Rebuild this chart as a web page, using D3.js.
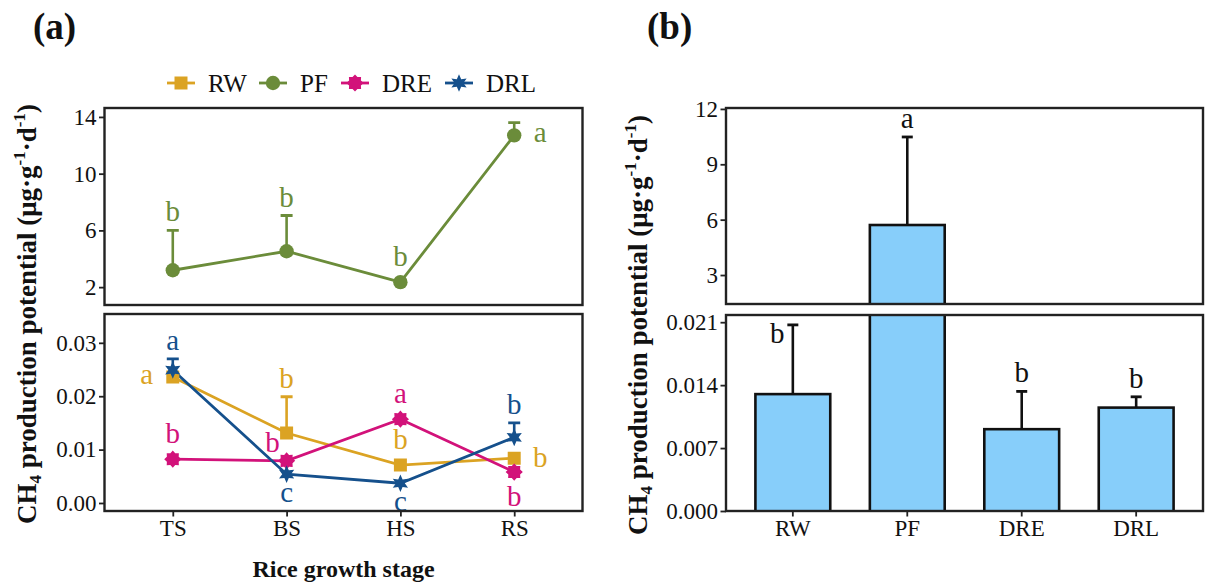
<!DOCTYPE html>
<html><head><meta charset="utf-8">
<script src="https://cdn.jsdelivr.net/npm/d3@7"></script>
<style>
html,body{margin:0;padding:0;background:#fff;}
text{font-family:"Liberation Serif","Times New Roman",serif;}
</style></head>
<body>
<svg id="chart" width="1205" height="584"></svg>
<script>
// ---------------- DATA ----------------
const stages = ["TS","BS","HS","RS"];
const seriesNames = ["RW","PF","DRE","DRL"];
const RW_mean  = [0.0236, 0.0131, 0.0071, 0.0084];
const RW_se    = [0, 0.0068, 0, 0];
const RW_let   = ["a","b","b","b"];
const RW_pos   = ["left","above","above","right"];
const PF_mean  = [3.19, 4.53, 2.35, 12.7];
const PF_se    = [2.81, 2.52, 0, 0.9];
const PF_let   = ["b","b","b","a"];
const PF_pos   = ["above","above","above","right"];
const DRE_mean = [0.0082, 0.0079, 0.0157, 0.0058];
const DRE_se   = [0, 0, 0, 0];
const DRE_let  = ["b","b","a","b"];
const DRE_pos  = ["above","upleft","above","below"];
const DRL_mean = [0.0249, 0.0054, 0.0037, 0.0123];
const DRL_se   = [0.0021, 0, 0, 0.0027];
const DRL_let  = ["a","c","c","b"];
const DRL_pos  = ["above","below","below","above"];

const treatments = ["RW","PF","DRE","DRL"];
const bar_mean = [0.0130, 5.71, 0.0091, 0.0115];
const bar_se   = [0.0077, 4.77, 0.0042, 0.0012];
const bar_let  = ["b","a","b","b"];
const bar_pos  = ["beside","above","above","above"];

const ticksA_top = [2,6,10,14];
const ticksA_bot = [0,0.01,0.02,0.03];
const ticksB_top = [3,6,9,12];
const ticksB_bot = [0,0.007,0.014,0.021];

// ---------------- STYLE ----------------
const colors = {RW:"#DBA323", PF:"#6B8C3A", DRE:"#D2127A", DRL:"#15508C"};
const FONT = '"Liberation Serif","Times New Roman",serif';
const svg = d3.select("#chart");
const boxStroke = "#222";

const series = [
  {name:"RW", mean:RW_mean, se:RW_se, let:RW_let, pos:RW_pos, panel:"bot"},
  {name:"PF", mean:PF_mean, se:PF_se, let:PF_let, pos:PF_pos, panel:"top"},
  {name:"DRE",mean:DRE_mean,se:DRE_se,let:DRE_let,pos:DRE_pos,panel:"bot"},
  {name:"DRL",mean:DRL_mean,se:DRL_se,let:DRL_let,pos:DRL_pos,panel:"bot"}
];

function starPath(n, ro, ri){
  const pts=[];
  for(let i=0;i<2*n;i++){
    const a = -Math.PI/2 + i*Math.PI/n;
    const r = i%2===0?ro:ri;
    pts.push([r*Math.cos(a), r*Math.sin(a)]);
  }
  return "M"+pts.map(p=>p[0].toFixed(2)+","+p[1].toFixed(2)).join("L")+"Z";
}
const markerPath = {
  RW: "M-6.5,-6.5H6.5V6.5H-6.5Z",
  PF: d3.arc()({innerRadius:0,outerRadius:7.2,startAngle:0,endAngle:2*Math.PI}),
  DRE: starPath(8, 8.6, 6.4),
  DRL: starPath(6, 8.8, 4.4)
};

// ---------------- PANEL A ----------------
const aL=104.5, aR=582.5;
const aTop={y0:108, y1:305}, aBot={y0:314, y1:511};
const xA = d3.scalePoint().domain(stages).range([aL,aR]).padding(0.6);
const yAtop = d3.scaleLinear().domain([0.74,14.63]).range([aTop.y1,aTop.y0]);
const yAbot = d3.scaleLinear().domain([-0.0015,0.0354]).range([aBot.y1,aBot.y0]);

function box(x0,x1,y0,y1){
  svg.append("rect").attr("x",x0).attr("y",y0).attr("width",x1-x0).attr("height",y1-y0)
    .attr("fill","none").attr("stroke",boxStroke).attr("stroke-width",2.4);
}
function clip(id,x0,x1,y0,y1){
  svg.append("clipPath").attr("id",id).append("rect")
    .attr("x",x0).attr("y",y0).attr("width",x1-x0).attr("height",y1-y0);
}
function yAxis(scale, x, ticks, fmt){
  const g = svg.append("g").attr("transform",`translate(${x},0)`)
    .call(d3.axisLeft(scale).tickValues(ticks).tickFormat(fmt).tickSize(5.5).tickPadding(2.5));
  g.select(".domain").remove();
  g.selectAll(".tick line").attr("stroke",boxStroke).attr("stroke-width",1.8);
  g.selectAll(".tick text").attr("font-family",FONT).attr("font-size",23).attr("fill","#111");
}
function xAxis(scale, y){
  const g = svg.append("g").attr("transform",`translate(0,${y})`)
    .call(d3.axisBottom(scale).tickSize(5.5).tickPadding(3));
  g.select(".domain").remove();
  g.selectAll(".tick line").attr("stroke",boxStroke).attr("stroke-width",1.8);
  g.selectAll(".tick text").attr("font-family",FONT).attr("font-size",23).attr("fill","#111");
}

clip("clipAtop",aL,aR,aTop.y0,aTop.y1);
clip("clipAbot",aL,aR,aBot.y0,aBot.y1);

const LFS = 29;
function letterBaseline(ch, pos, x, yPoint, yTopMark){
  const asc = /[bdfhklt]/.test(ch) ? 0.68*LFS : 0.46*LFS;
  switch(pos){
    case "above": return [x, yTopMark - 9];
    case "below": return [x, yPoint + 14 + asc];
    case "left":  return [x - 26, yPoint + 7];
    case "right": return [x + 26, yPoint + (asc>15?9:7)];
    case "upleft":return [x - 14, yPoint - 8.5];
    case "beside":return [x - 15.5, yTopMark + 18];
  }
}

["top","bot"].forEach(panel=>{
  const ys = panel==="top"?yAtop:yAbot;
  const g = svg.append("g").attr("clip-path",`url(#${panel==="top"?"clipAtop":"clipAbot"})`);
  const ss = series.filter(s=>s.panel===panel);
  ss.forEach(s=>{
    g.append("path").datum(stages.map((st,i)=>[xA(st), ys(s.mean[i])]))
      .attr("d",d3.line()).attr("fill","none").attr("stroke",colors[s.name]).attr("stroke-width",2.8);
  });
  ss.forEach(s=>{
    stages.forEach((st,i)=>{
      if(!s.se[i]) return;
      const x=xA(st), y0=ys(s.mean[i]), y1=ys(s.mean[i]+s.se[i]);
      g.append("line").attr("x1",x).attr("x2",x).attr("y1",y0).attr("y2",y1)
        .attr("stroke",colors[s.name]).attr("stroke-width",2.6);
      g.append("line").attr("x1",x-6).attr("x2",x+6).attr("y1",y1).attr("y2",y1)
        .attr("stroke",colors[s.name]).attr("stroke-width",2.8);
    });
  });
  ss.forEach(s=>{
    stages.forEach((st,i)=>{
      g.append("path").attr("d",markerPath[s.name])
        .attr("transform",`translate(${xA(st)},${ys(s.mean[i])})`)
        .attr("fill",colors[s.name]);
    });
  });
  ss.forEach(s=>{
    stages.forEach((st,i)=>{
      const x=xA(st), yp=ys(s.mean[i]);
      const yt = s.se[i] ? ys(s.mean[i]+s.se[i]) : yp-7;
      const [lx,ly] = letterBaseline(s.let[i], s.pos[i], x, yp, yt);
      svg.append("text").attr("x",lx).attr("y",ly).attr("text-anchor","middle")
        .attr("font-family",FONT).attr("font-size",LFS).attr("fill",colors[s.name]).text(s.let[i]);
    });
  });
});
box(aL,aR,aTop.y0,aTop.y1);
box(aL,aR,aBot.y0,aBot.y1);
yAxis(yAtop, aL, ticksA_top, d3.format("d"));
yAxis(yAbot, aL, ticksA_bot, d3.format(".2f"));
xAxis(xA, aBot.y1);

// legend
const legX = [181, 273, 355, 459];
seriesNames.forEach((n,i)=>{
  const cx=legX[i], cy=83;
  svg.append("line").attr("x1",cx-14).attr("x2",cx+14).attr("y1",cy).attr("y2",cy)
    .attr("stroke",colors[n]).attr("stroke-width",2.8);
  svg.append("path").attr("d",markerPath[n]).attr("transform",`translate(${cx},${cy})`).attr("fill",colors[n]);
  svg.append("text").attr("x",cx+27).attr("y",cy+8.5).attr("font-family",FONT).attr("font-size",25)
    .attr("fill","#111").text(n);
});

function yTitle(bx, cy){
  const t = svg.append("text").attr("transform",`translate(${bx},${cy}) rotate(-90)`)
    .attr("text-anchor","middle").attr("font-family",FONT).attr("font-weight","bold")
    .attr("font-size",27).attr("fill","#111");
  t.append("tspan").text("CH");
  t.append("tspan").attr("font-size",17).attr("dy",5).text("4");
  t.append("tspan").attr("dy",-5).text(" production potential (μg·g");
  t.append("tspan").attr("font-size",17).attr("dy",-11).text("-1");
  t.append("tspan").attr("dy",11).text("·d");
  t.append("tspan").attr("font-size",17).attr("dy",-11).text("-1");
  t.append("tspan").attr("dy",11).text(")");
}
yTitle(36, 314);
svg.append("text").attr("x",343.5).attr("y",577).attr("text-anchor","middle")
  .attr("font-family",FONT).attr("font-weight","bold").attr("font-size",24).attr("fill","#111")
  .text("Rice growth stage");

svg.append("text").attr("x",33).attr("y",39).attr("font-family",FONT).attr("font-weight","bold")
  .attr("font-size",37).attr("fill","#111").text("(a)");
svg.append("text").attr("x",647).attr("y",39).attr("font-family",FONT).attr("font-weight","bold")
  .attr("font-size",37).attr("fill","#111").text("(b)");

// ---------------- PANEL B ----------------
const bL=726, bR=1203;
const bTop={y0:108, y1:304}, bBot={y0:315, y1:511};
const xB = d3.scaleBand().domain(treatments).range([bL,bR]).paddingInner(0.346).paddingOuter(0.257);
const yBtop = d3.scaleLinear().domain([1.43,12.05]).range([bTop.y1,bTop.y0]);
const yBbot = d3.scaleLinear().domain([0,0.0218]).range([bBot.y1,bBot.y0]);
clip("clipBtop",bL,bR,bTop.y0,bTop.y1);
clip("clipBbot",bL,bR,bBot.y0,bBot.y1);

[["top",yBtop,"clipBtop"],["bot",yBbot,"clipBbot"]].forEach(([panel,ys,cid])=>{
  const g = svg.append("g").attr("clip-path",`url(#${cid})`);
  treatments.forEach((t,i)=>{
    const x=xB(t), w=xB.bandwidth(), cx=x+w/2;
    const yv = Math.max(ys(bar_mean[i]), -50);
    const y0 = ys.range()[0] + 40;
    const ye = ys(bar_mean[i]+bar_se[i]);
    g.append("line").attr("x1",cx).attr("x2",cx).attr("y1",Math.min(y0,ys(bar_mean[i]))).attr("y2",Math.max(ye,-50))
      .attr("stroke","#111").attr("stroke-width",2.6);
    g.append("line").attr("x1",cx-5.5).attr("x2",cx+5.5).attr("y1",ye).attr("y2",ye)
      .attr("stroke","#111").attr("stroke-width",2.8);
    g.append("rect").attr("x",x).attr("width",w)
      .attr("y", Math.min(yv,y0)).attr("height", Math.max(0, y0-Math.min(yv,y0)))
      .attr("fill","#87CEFA").attr("stroke","#111").attr("stroke-width",2.6);
    const dom = ys.domain();
    const topVal = bar_mean[i]+bar_se[i];
    if(topVal>=dom[0] && topVal<=dom[1]){
      const [lx,ly] = letterBaseline(bar_let[i], bar_pos[i], cx, ys(bar_mean[i]), ye);
      svg.append("text").attr("x",lx).attr("y",ly).attr("text-anchor","middle")
        .attr("font-family",FONT).attr("font-size",LFS).attr("fill","#111").text(bar_let[i]);
    }
  });
});
box(bL,bR,bTop.y0,bTop.y1);
box(bL,bR,bBot.y0,bBot.y1);
yAxis(yBtop, bL, ticksB_top, d3.format("d"));
yAxis(yBbot, bL, ticksB_bot, d3.format(".3f"));
xAxis(xB, bBot.y1);
yTitle(647, 325);
</script>
</body></html>
